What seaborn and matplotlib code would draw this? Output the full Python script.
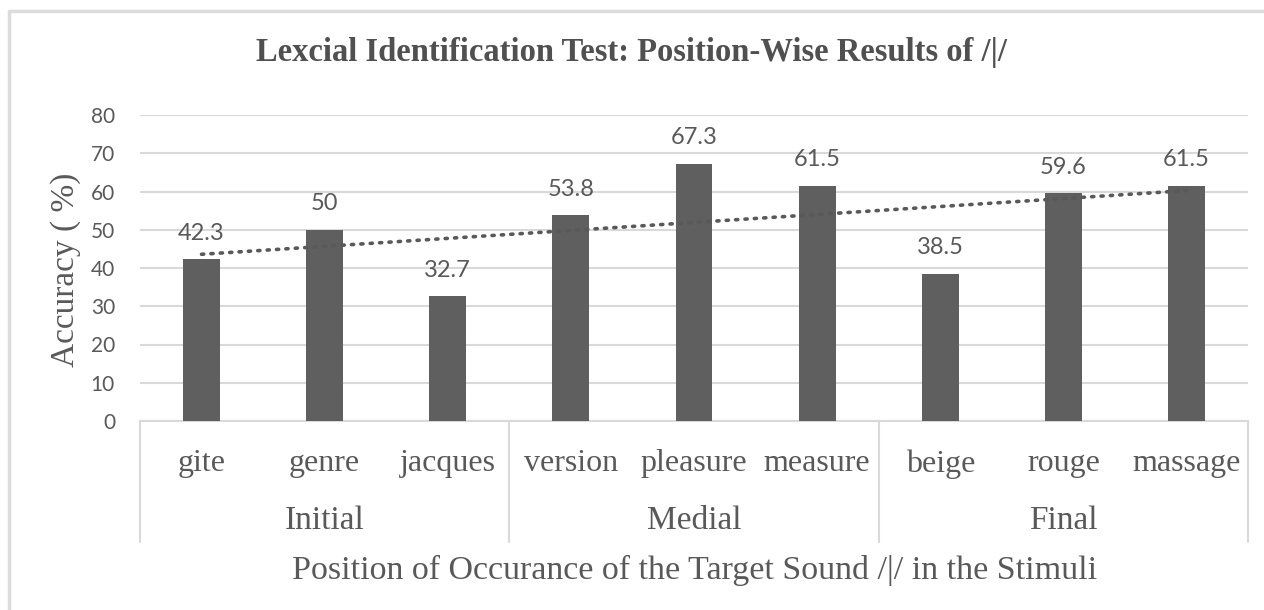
import numpy as np
import pandas as pd
import matplotlib
matplotlib.use("Agg")
import matplotlib.pyplot as plt
import matplotlib.transforms as mtransforms
from matplotlib.lines import Line2D
import seaborn as sns

# ---- data ----
words = ["gite", "genre", "jacques", "version", "pleasure", "measure", "beige", "rouge", "massage"]
positions = ["Initial", "Initial", "Initial", "Medial", "Medial", "Medial", "Final", "Final", "Final"]
group_names = ["Initial", "Medial", "Final"]
accuracy = [42.3, 50, 32.7, 53.8, 67.3, 61.5, 38.5, 59.6, 61.5]
yticks = [0, 10, 20, 30, 40, 50, 60, 70, 80]

title = "Lexcial Identification Test: Position-Wise Results of /|/"
xlabel = "Position of Occurance of the Target Sound /|/ in the Stimuli"
ylabel = "Accuracy ( %)"

TXT = "#595959"
BAR = "#5f5f5f"
GRID = "#d9d9d9"
SERIF = "Liberation Serif"
SANS = "Lato"

sns.set_theme(style="white")
plt.rcParams["font.family"] = ["Liberation Serif", "DejaVu Sans"]

df = pd.DataFrame({"word": words, "pos": positions, "acc": accuracy})

fig = plt.figure(figsize=(12.64, 6.10), dpi=100)
fig.patch.set_facecolor("white")
ax = fig.add_axes([140/1264, 1-421/610, (1248-140)/1264, (421-115)/610])

sns.barplot(data=df, x="word", y="acc", order=words, color=BAR, width=0.30,
            saturation=1, ax=ax, zorder=3, edgecolor="none")

# labels
ax.bar_label(ax.containers[0], labels=[f"{v:g}" for v in accuracy], padding=11,
             fontsize=17, color=TXT, family=SANS)

# linear trendline
xi = np.arange(len(accuracy))
m, b = np.polyfit(xi, accuracy, 1)
ax.plot(xi, m*xi + b, linestyle=(0, (0.6, 2.0)), dash_capstyle="round",
        color=TXT, lw=2.6, zorder=4)

ax.set_ylim(0, 80)
ax.set_xlim(-0.5, len(words) - 0.5)
ax.set_yticks(yticks)
ax.yaxis.grid(True, color=GRID, lw=1.5, zorder=0)
ax.xaxis.grid(False)
for s in ["top", "right", "left"]:
    ax.spines[s].set_visible(False)
ax.spines["bottom"].set_color(GRID)
ax.spines["bottom"].set_linewidth(1.5)
ax.tick_params(axis="y", length=0, pad=18, labelsize=15, labelcolor=TXT)
for t in ax.get_yticklabels():
    t.set_family(SANS)
ax.set_xticks([])
ax.set_xlabel("")
ax.set_ylabel("")

trans = mtransforms.blended_transform_factory(ax.transData, ax.transAxes)
# word labels
for i, w in enumerate(words):
    ax.text(i, -0.14, w, transform=trans, ha="center", va="center",
            fontsize=23, color=TXT, family=SERIF)
# group separators & labels
bounds = [-0.5, 2.5, 5.5, 8.5]
for x in bounds:
    ax.plot([x, x], [0, -0.395], transform=trans, color=GRID, lw=1.5, clip_on=False)
for gi, g in enumerate(group_names):
    ax.text((bounds[gi] + bounds[gi+1]) / 2, -0.327, g, transform=trans,
            ha="center", va="center", fontsize=24, color=TXT, family=SERIF)

fig.text((295+1095)/2/1264, 1-570/610, xlabel, ha="center", va="center",
         fontsize=24.5, color=TXT, family=SERIF)
fig.text(66/1264, 1-270/610, ylabel, ha="center", va="center", rotation=90,
         fontsize=24, color=TXT, family=SERIF)
fig.text((252+1012)/2/1264, 1-52/610, title, ha="center", va="center",
         fontsize=23.5, color="#505050", family=SERIF, weight="bold")

# outer chart border (only top and left visible)
fig.add_artist(Line2D([9/1264, 9/1264], [-0.05, 1-11/610], transform=fig.transFigure,
                      color="#dcdcdc", lw=2.5))
fig.add_artist(Line2D([9/1264, 1.05], [1-11/610, 1-11/610], transform=fig.transFigure,
                      color="#dcdcdc", lw=2.5))

fig.savefig("out.png", dpi=100, facecolor="white")
